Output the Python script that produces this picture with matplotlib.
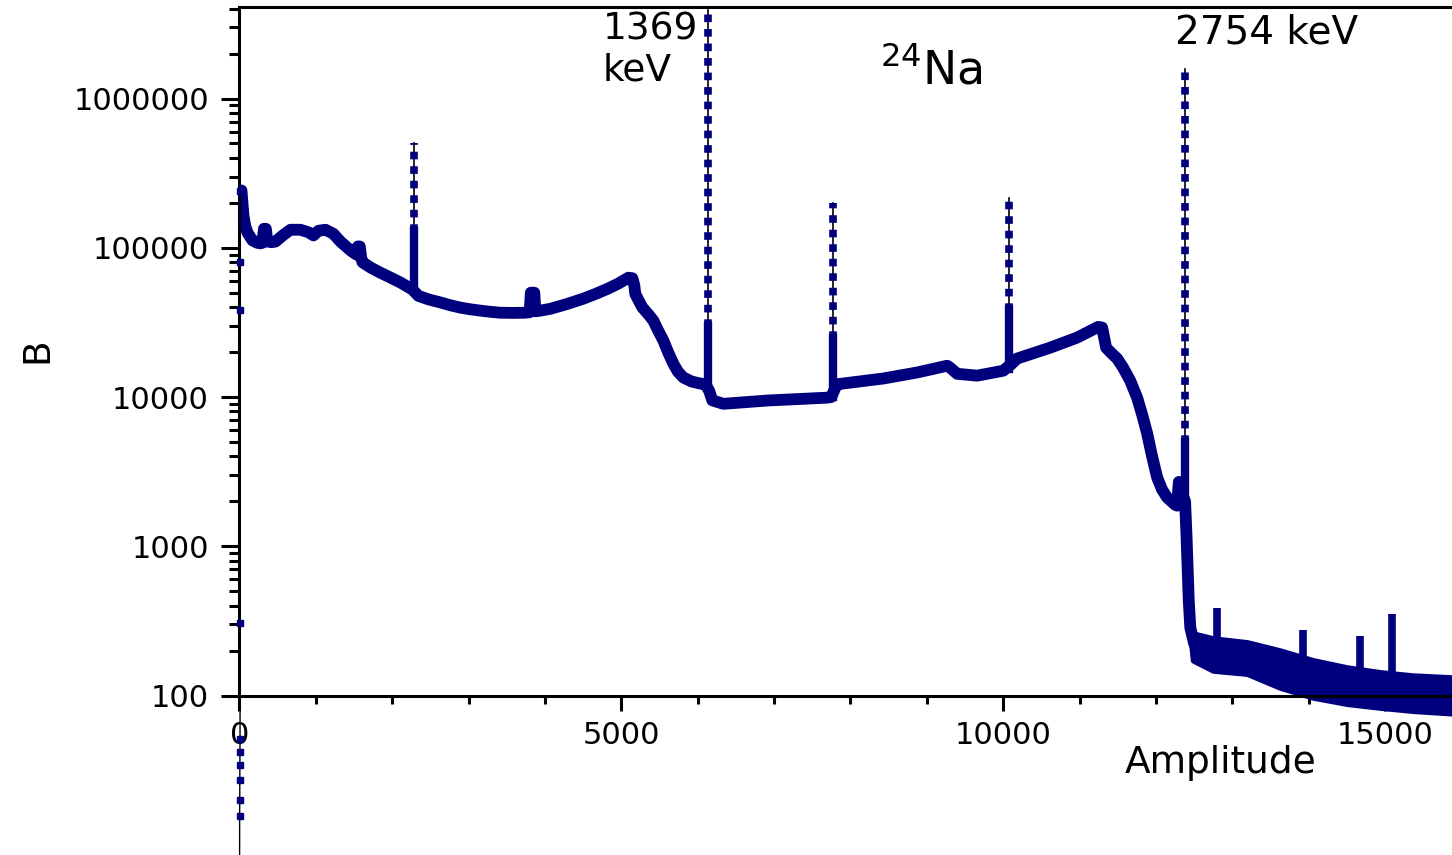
import matplotlib
matplotlib.use("Agg")
import matplotlib.pyplot as plt
from matplotlib.ticker import FixedLocator, MultipleLocator, LogLocator, FuncFormatter, NullFormatter

# -------------------- data --------------------
# first channels (sit on the y axis, partly below 100)
start_x = [0, 2, 3, 4, 5, 6, 7, 8, 9, 10, 12]
start_y = [2, 15.7, 19.8, 27, 34, 42, 51.5, 308, 38000, 80000, 240000]

# smooth Compton continuum (without the big peaks)
cont_x = [26, 40, 52, 75, 105, 170, 230, 275, 300, 320, 345, 365, 420, 471, 576, 668,
          798, 903, 969, 1034, 1126, 1230, 1322, 1453, 1531, 1550, 1575, 1595, 1610,
          1720, 1846, 1980, 2107, 2264, 2343, 2480, 2631, 2760, 2893, 3020, 3154, 3290,
          3416, 3580, 3743, 3800, 3815, 3860, 3875, 3940, 4071, 4290, 4503, 4660, 4817,
          4960, 5092, 5144, 5170, 5183, 5230, 5275, 5350, 5419, 5480, 5550, 5615, 5681,
          5740, 5812, 5920, 6034, 6100, 6150, 6191, 6335, 6911, 7696, 7750, 7800, 7840,
          8429, 8874, 9267, 9300, 9398, 9660, 10000, 10100, 10183, 10615, 10968, 11243,
          11296, 11348, 11420, 11492, 11571, 11662, 11754, 11820, 11885, 11950, 12016,
          12080, 12147, 12250, 12277, 12300, 12330, 12382,
          12400, 12415, 12430, 12450, 12500]
cont_y = [242000, 195000, 164000, 140000, 126000, 112000, 108000, 107000, 108000,
          134000, 134000, 110000, 109000, 110000, 122000, 132000, 132000, 127000, 121000,
          130000, 132000, 124000, 110000, 96000, 90000, 102000, 102000, 85000, 80000,
          73500, 68000, 63000, 58500, 52500, 47600, 45000, 43000, 41200, 39700, 38700,
          37900, 37200, 36700, 36600, 36700, 37000, 50000, 50000, 37500, 37900, 39000,
          42000, 45600, 49000, 53000, 57500, 63000, 62500, 56000, 49000, 44000, 39800,
          36000, 32500, 28000, 23900, 19800, 16700, 14800, 13500, 12700, 12300, 12200,
          11000, 9500, 9000, 9470, 9900, 10000, 11500, 12200, 13300, 14600, 16200,
          15800, 14300, 13900, 15000, 16500, 18100, 21400, 25000, 29500, 29200, 21400,
          19600, 18100, 15700, 12900, 9900, 7600, 5700, 4000, 2890, 2400, 2120, 1900,
          1870, 2700, 2300, 2000, 1200, 720, 432, 285, 223]

# photo peaks
peak_x = [2290, 6140, 7775, 10079, 12382]
peak_base = [52000, 12000, 10000, 15500, 2000]
peak_top = [505000, 3900000, 198000, 215000, 1580000]

# noisy tail above the 2754 keV edge
tail_x = [12450, 12487, 12749, 13194, 13626, 14058, 14503, 14935, 15366, 15877]
tail_hi = [300, 260, 241, 227, 200, 172, 154, 143, 136, 132]
tail_lo = [260, 172, 147, 140, 113, 97, 88, 83, 79, 76]

spike_x = [12801, 13927, 14673, 15092]
spike_base = [230, 170, 150, 140]
spike_top = [383, 273, 249, 349]

navy = '#00007f'

# -------------------- figure --------------------
W, H = 1452, 855
fig = plt.figure(figsize=(W / 100, H / 100), dpi=100)
ax = fig.add_axes([239.5 / W, (H - 695.5) / H, (W - 239.5) / W, (695.5 - 7) / H])

ax.set_yscale('log')
ax.set_xlim(0, 15877)
ax.set_ylim(100, 10 ** (2 + 688.5 / 149.25))

# tail band
ax.fill_between(tail_x, tail_lo, tail_hi, facecolor=navy, edgecolor=navy, lw=4,
                clip_on=False, zorder=2)
ax.vlines(spike_x, spike_base, spike_top, color=navy, lw=5.5, zorder=2)

# continuum
ax.plot(cont_x, cont_y, color=navy, lw=8.5, solid_joinstyle='round',
        solid_capstyle='round', zorder=3)

# peaks: thin black line with stacked navy squares
for x, b, t in zip(peak_x, peak_base, peak_top):
    ax.plot([x, x], [b, t], color='k', lw=1.2, zorder=3)
    ax.plot([x, x], [b, t], color=navy, lw=5.5, ls=(0, (1.0, 0.9)),
            dash_capstyle='butt', zorder=4)
    ax.plot([x, x], [b, b * 2.5], color=navy, lw=6, zorder=4)

# first channels, drawn below the axis too
ax.plot(start_x, start_y, color='k', lw=1, marker='s', ms=4.5, mfc=navy, mec=navy,
        clip_on=False, zorder=5)

# -------------------- axes styling --------------------
ax.spines['right'].set_visible(False)
for s in ['left', 'bottom', 'top']:
    ax.spines[s].set_linewidth(2.2)

ax.xaxis.set_major_locator(FixedLocator([0, 5000, 10000, 15000]))
ax.xaxis.set_minor_locator(MultipleLocator(1000))
ax.yaxis.set_major_locator(LogLocator(base=10))
ax.yaxis.set_minor_locator(LogLocator(base=10, subs=range(2, 10)))
ax.yaxis.set_major_formatter(FuncFormatter(lambda v, p: f'{v:.0f}'))
ax.yaxis.set_minor_formatter(NullFormatter())

ax.tick_params(axis='x', which='major', direction='out', length=11, width=2.2,
               labelsize=22, pad=7)
ax.tick_params(axis='x', which='minor', direction='out', length=6, width=2.2)
ax.tick_params(axis='y', which='major', direction='out', length=13, width=2.2,
               labelsize=22, pad=9)
ax.tick_params(axis='y', which='minor', direction='out', length=7, width=2.2)

# labels and annotations (pixel positions of the reference)
def fx(px):
    return px / W

def fy(py):
    return 1 - py / H

fig.text(fx(37), fy(350), 'B', rotation=90, fontsize=27, ha='center', va='center')
fig.text(fx(1221), fy(763), 'Amplitude', fontsize=27, ha='center', va='center')
fig.text(fx(603), fy(50), '1369\nkeV', fontsize=27, ha='left', va='center',
         linespacing=1.2)
fig.text(fx(1175), fy(32), '2754 keV', fontsize=28, ha='left', va='center')
fig.text(fx(880), fy(70), r'$^{24}$Na', fontsize=33, ha='left', va='center')

fig.savefig('out.png', dpi=100)
